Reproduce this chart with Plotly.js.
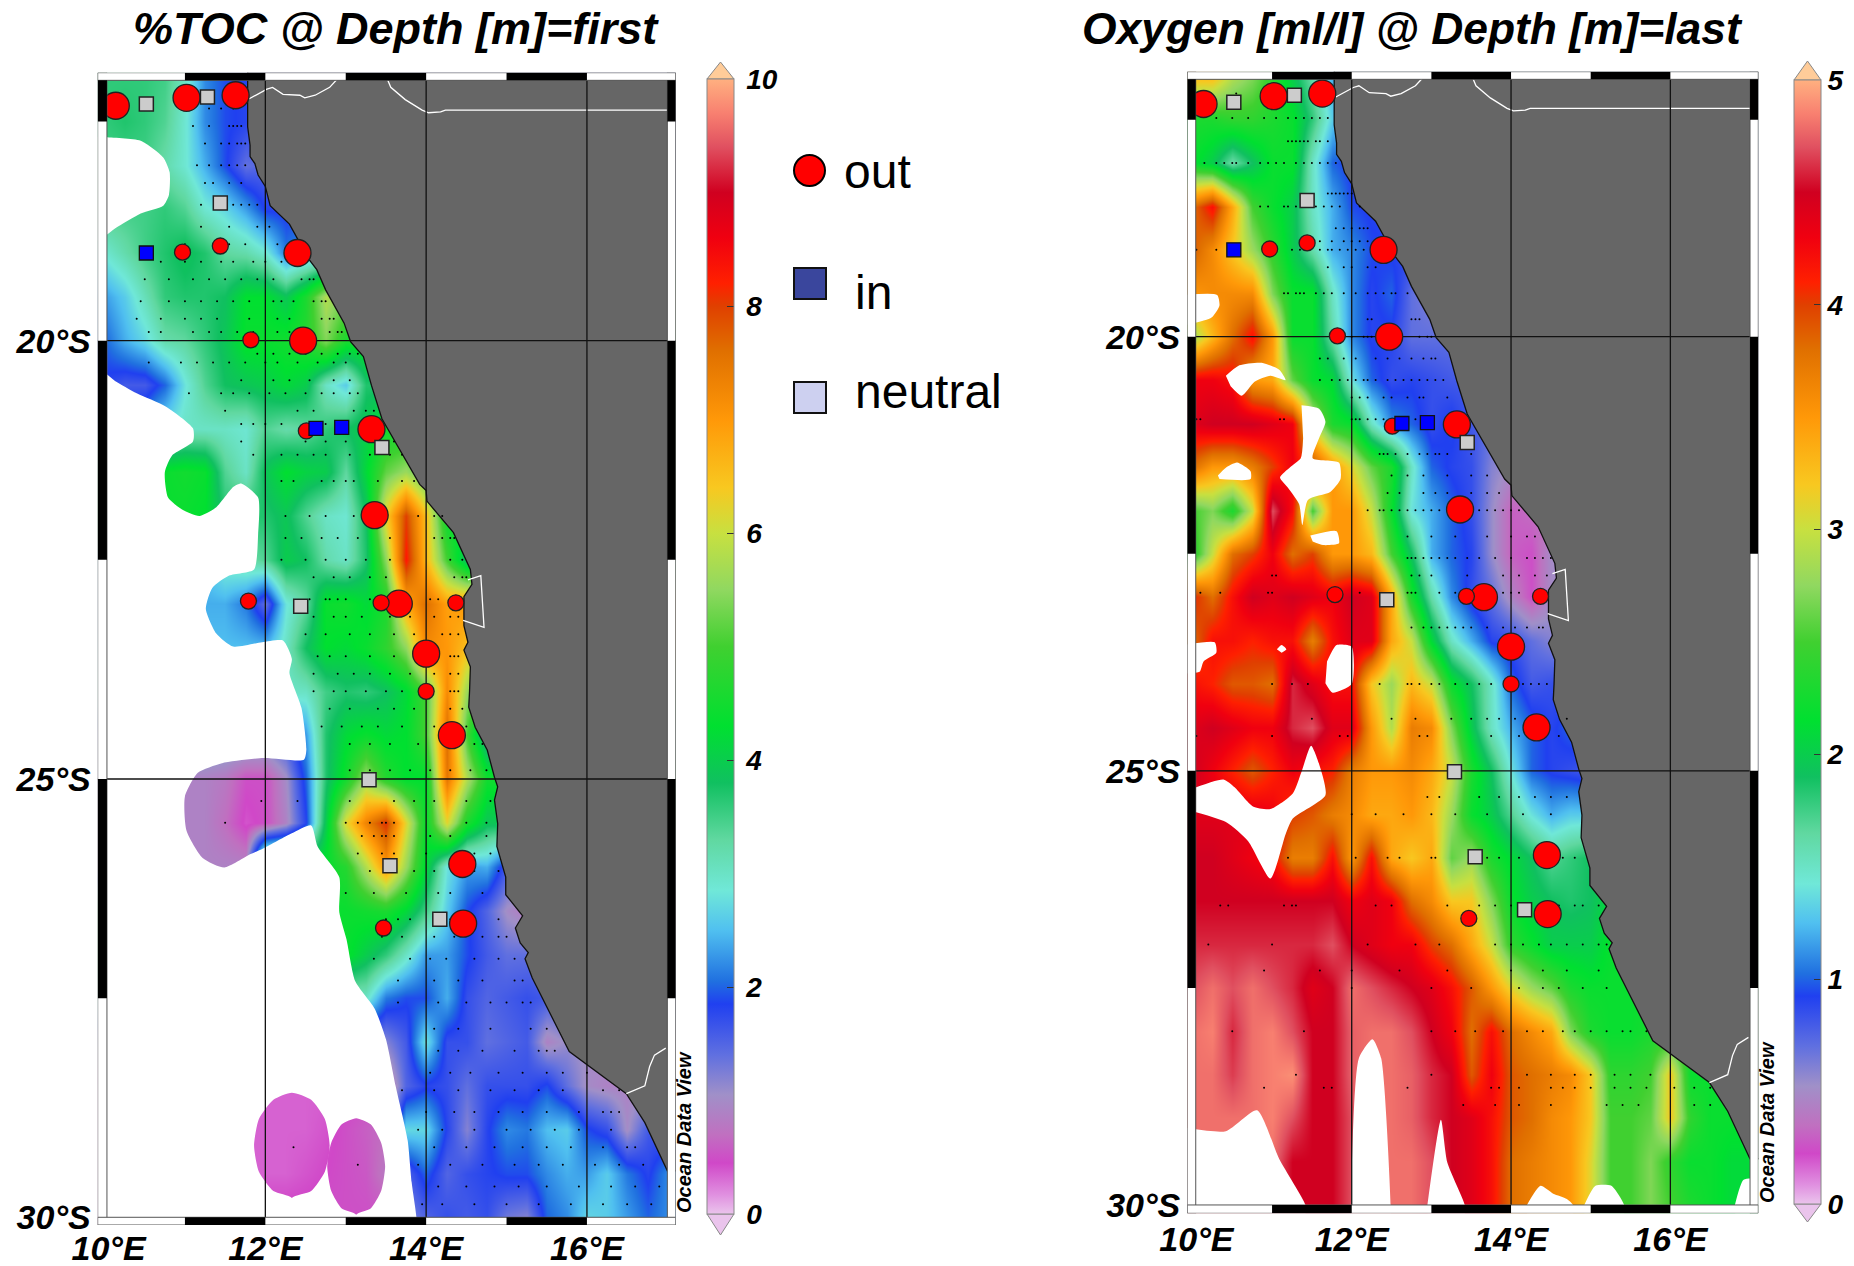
<!DOCTYPE html>
<html><head><meta charset="utf-8">
<script src="https://cdn.plot.ly/plotly-3.0.1.min.js"></script>
<style>html,body{margin:0;padding:0;background:#fff}#chart{width:1854px;height:1266px}</style>
</head><body><div id="chart"></div>
<script>
const gridLons=[10,10.25,10.5,10.75,11,11.25,11.5,11.75,12,12.25,12.5,12.75,13,13.25,13.5,13.75,14,14.25,14.5,14.75,15,15.25,15.5,15.75,16,16.25,16.5,16.75,17];
const gridLats=[17,17.5,18,18.5,19,19.5,20,20.5,21,21.5,22,22.5,23,23.5,24,24.5,25,25.5,26,26.5,27,27.5,28,28.5,29,29.5,30];

const tocRows=[
[3.6,3.6,3.6,3.5,3.0,2.2,1.9,1.8,1.8],
[3.6,3.7,3.6,3.4,2.9,2.2,1.9,1.8,1.8],
[3.5,3.5,3.5,3.2,2.9,2.4,1.9,1.4,1.5,1.5],
[3.5,3.5,3.5,3.6,3.4,2.9,2.7,2.3,1.8,1.8,1.8],
[2.9,3.2,3.5,3.7,3.9,3.7,3.3,3.2,2.9,2.1,2.3,2.3],
[2.3,2.6,3.1,3.6,3.7,3.7,3.8,4.3,4.3,3.9,4.6,5.8,5.3],
[2.0,2.4,2.7,3.2,3.3,3.6,3.9,4.4,4.4,4.5,4.7,5.4,4.6,4.5],
[1.8,1.6,1.6,2.0,2.8,3.4,3.8,3.9,4.0,4.2,4.0,3.0,2.6,3.7,3.7],
[2.2,2.2,2.4,2.8,3.0,3.0,3.0,2.9,3.4,3.2,3.3,3.6,3.8,4.0,4.5,4.5],
[4.0,4.2,4.4,4.4,4.5,4.4,3.4,3.0,3.9,4.3,4.1,4.0,3.3,4.2,5.2,5.6,5.0,4.8],
[4.4,4.4,4.4,4.4,4.4,4.3,3.7,3.7,3.7,3.9,3.4,3.0,2.9,3.8,6.3,8.0,6.5,4.4,4.4],
[2.5,2.5,2.5,2.5,2.5,2.5,3.0,3.2,3.4,4.0,3.8,3.2,3.0,3.7,5.5,8.3,6.6,5.0,3.7,3.7],
[2.3,2.3,2.3,2.3,2.3,2.4,2.4,2.1,1.4,2.8,3.3,4.4,4.5,4.2,4.6,6.8,7.6,6.9,7.0,7.0],
[2.5,2.5,2.5,2.5,2.5,2.5,2.5,2.5,2.5,3.0,3.8,4.3,4.2,4.4,4.8,5.5,7.2,7.0,6.5,6.5],
[3,3,3,3,3,3,3,3,3,3.0,3.0,3.5,3.7,3.6,3.8,4.2,5.0,7.2,5.6,5.0],
[1.5,1.5,1.5,1.5,1.5,1.5,1.5,1.5,1.5,1.7,2.3,3.7,4.2,4.4,4.2,4.3,5.0,7.6,5.0,3.3,3.3],
[0.9,0.9,0.9,0.9,0.9,0.9,0.8,0.5,0.5,1.0,2.0,3.7,4.5,5.6,4.7,4.3,4.3,7.5,5.8,4.5,4.5],
[0.9,0.9,0.9,0.9,0.9,0.9,0.7,0.4,0.5,0.9,1.8,4.0,6.2,7.3,8.1,6.2,4.4,6.2,4.6,3.9,3.9],
[0.9,0.9,0.9,0.9,0.9,0.9,0.9,0.9,4.4,4.4,4.4,4.4,4.7,5.8,7.0,5.6,4.2,2.8,2.3,2.4,1.6],
[4.4,4.4,4.4,4.4,4.4,4.4,4.4,4.4,4.4,4.4,4.4,4.4,4.4,4.5,4.6,4.2,3.5,2.6,1.9,1.5,1.0,0.8],
[4.4,4.4,4.4,4.4,4.4,4.4,4.4,4.4,4.4,4.4,4.4,4.4,4.4,4.0,3.6,3.0,2.3,2.3,1.9,1.6,1.4,1.4],
[3,3,3,3,3,3,3,3,3,3,3,3,3,3.0,2.1,1.9,1.9,2.4,1.7,1.5,1.6,1.7,1.6],
[1.2,1.2,1.2,1.2,1.2,1.2,1.2,1.2,1.2,1.2,1.2,1.2,1.2,1.2,1.2,1.6,2.8,1.7,1.7,1.4,1.5,1.6,0.9,1.1,1.0],
[.35,.35,.35,.35,.35,.35,.35,.35,.35,.35,.35,.35,.4,.45,.5,1.5,1.8,1.7,1.4,1.7,1.7,1.7,1.9,1.4,1.0,0.9],
[.35,.35,.35,.35,.35,.35,.35,.35,.35,.35,.35,.4,.5,.6,.7,2.7,2.7,1.8,1.2,1.8,2.2,2.1,2.5,2.6,1.9,1.7,1.0,1.6],
[.35,.35,.35,.35,.35,.35,.35,.35,.35,.35,.4,.45,.5,.55,.8,1.5,2.0,1.5,1.7,1.8,1.9,1.9,2.2,2.4,2.3,2.6,2.1,1.8,2.2],
[.5,.5,.5,.5,.5,.5,.5,.5,.5,.5,.5,.5,.5,.5,.5,1.2,1.5,1.7,1.6,1.7,1.3,1.2,2.0,2.2,2.7,2.6,2.3,2.0,2.2]];

const oxyRows=[
[3.3,3.3,2.9,2.7,2.4,2.0,1.6,1.2,1.2],
[2.3,2.3,2.4,2.4,2.3,2.2,1.8,1.3,1.2],
[2.2,2.0,1.6,1.9,2.2,2.2,1.5,1.0,.9,.9],
[3.8,4.2,3.4,2.5,2.2,2.0,1.5,1.2,.95,.9,.9],
[3.9,3.6,3.2,2.8,2.4,2.0,1.6,1.2,1.1,.95,.9,.9],
[3.5,3.6,3.6,3.6,2.7,2.2,2.2,1.5,1.1,.9,1.0,.7,.6],
[2.8,3.3,3.8,4.2,3.5,2.2,2.2,1.6,1.1,.9,.9,.7,.7,.7],
[4.3,4.3,4.2,3.5,3.4,2.6,2.2,2.1,1.4,1.0,.85,.9,.85,.8],
[4.4,4.5,4.5,4.5,4.4,4.3,3.0,2.3,2.2,1.5,1.1,1.0,.85,.95,.8,.7],
[3.8,3.5,3.5,3.7,4.0,4.3,4.0,3.5,3.1,2.6,2.3,1.5,1.0,.9,.85,.6,.5,.5],
[2.5,2.7,2.3,3.0,4.7,4.2,2.5,3.5,3.5,3.0,2.2,1.4,1.2,1.0,.85,.55,.3,.35,.35],
[2.3,3.0,3.8,4.0,4.3,3.8,4.0,3.5,3.5,3.3,2.5,1.9,1.2,1.0,.9,.55,.3,.25,.5,.5],
[4.1,3.8,4.2,4.5,4.4,4.5,4.4,4.3,4.5,4.4,3.4,2.3,1.6,1.1,.85,.7,.45,.25,.5,.5],
[3.8,4.2,4.2,4.1,4.2,4.2,3.7,4.2,4.4,4.4,3.4,3.0,2.1,1.5,1.2,.9,.85,.7,.6,.6],
[4.2,4.1,3.9,3.9,3.8,4.6,4.4,4.2,4.2,3.2,2.8,3.3,3.0,2.2,1.9,1.5,1.0,.8,.85,.85],
[4.4,4.5,4.4,4.3,4.3,4.6,4.7,4.4,4.4,3.5,2.9,3.7,3.6,2.7,2.0,1.5,1.2,1.0,.9,1.0],
[4.5,4.3,4.1,3.9,4.1,4.3,4.2,4.1,3.7,3.5,3.5,3.6,3.4,3.0,2.3,1.9,1.4,1.0,.9,.85,.8],
[4.4,4.4,4.4,4.4,4.3,4.0,3.9,3.7,3.6,3.4,3.4,3.5,3.3,2.8,2.2,2.0,1.7,1.4,1.2,1.3,1.3],
[4.5,4.5,4.4,4.3,4.2,3.7,3.7,4.2,3.5,4.2,3.4,3.2,3.4,2.6,2.8,2.3,2.1,1.9,1.7,1.8,1.9],
[4.5,4.5,4.5,4.5,4.5,4.5,4.5,4.5,4.3,4.4,4.3,3.8,3.6,3.2,3.2,2.7,2.2,2.0,1.9,1.85,1.9,2.1],
[4.6,4.6,4.6,4.6,4.6,4.6,4.6,4.7,4.5,4.4,4.3,4.3,4.0,3.8,3.4,3.0,2.4,2.2,2.0,2.0,2.0,2.2],
[4.7,4.8,4.7,4.8,4.7,4.6,4.4,4.5,4.8,4.7,4.6,4.5,4.4,4.2,3.9,3.5,3.1,2.8,2.6,2.3,2.2,2.2,2.2],
[4.8,4.85,4.6,4.8,4.85,4.7,4.5,4.5,4.75,4.8,4.8,4.7,4.5,4.3,3.8,4.2,3.8,3.6,3.4,2.7,2.3,2.2,2.2,2.3],
[4.8,4.8,4.65,4.8,4.85,4.9,4.5,4.5,4.75,4.8,4.8,4.75,4.6,4.5,3.9,4.3,3.9,3.8,3.7,3.6,3.2,2.4,2.4,2.5,3.2,2.2],
[4.8,4.8,4.8,4.8,4.85,4.7,4.5,4.5,4.7,4.8,4.8,4.75,4.6,4.5,4.4,4.2,3.9,3.8,3.6,3.5,3.2,2.5,2.5,2.6,3.2,2.4,2.2,2.2],
[4.8,4.8,4.8,4.8,4.8,4.5,4.5,4.5,4.7,4.8,4.8,4.8,4.7,4.5,4.4,4.2,3.8,3.7,3.6,3.5,3.1,2.5,2.5,2.7,2.4,2.2,2.2,2.1,2.1],
[4.7,4.7,4.7,4.7,4.7,4.5,4.5,4.5,4.7,4.8,4.8,4.8,4.7,4.5,4.4,4.2,3.8,3.7,3.6,3.5,3.1,2.5,2.5,2.7,2.5,2.3,2.2,2.1,2.1]];

const palette=[[0,'#EAC4EC'],[.017,'#E090E0'],[.045,'#D048C8'],[.07,'#C070C0'],[.105,'#A090C8'],[.14,'#6070E0'],[.185,'#2040F0'],[.205,'#2070E0'],[.25,'#50C0F0'],[.285,'#70E8D8'],[.33,'#60D8A0'],[.38,'#10C060'],[.43,'#00E030'],[.5,'#40D030'],[.55,'#90D860'],[.6,'#C8E040'],[.64,'#F8C820'],[.7,'#FF9808'],[.76,'#E07000'],[.8,'#E04000'],[.82,'#FF2000'],[.86,'#F00010'],[.9,'#D00020'],[.94,'#E05060'],[.97,'#F88070'],[1,'#FFB080']];

const coastLon=[11.78,11.78,11.81,11.81,11.87,11.91,12.0,12.06,12.30,12.54,12.64,12.75,12.98,13.06,13.22,13.32,13.45,13.92,14.0,14.01,14.34,14.55,14.57,14.47,14.47,14.52,14.47,14.55,14.54,14.53,14.61,14.76,14.85,14.89,14.85,14.89,14.88,14.99,14.99,15.11,15.2,15.11,15.17,15.27,15.23,15.32,15.49,15.78,16.49,16.72,17,17.2,17.2,11.78];
const coastLat=[16.9,17.56,17.77,17.90,17.98,18.11,18.24,18.46,18.67,19.07,19.19,19.42,19.80,20.01,20.18,20.51,20.89,21.64,21.71,21.83,22.19,22.61,22.78,22.92,23.25,23.44,23.53,23.72,24.0,24.18,24.41,24.67,24.98,25.09,25.24,25.51,25.77,26.12,26.32,26.45,26.56,26.70,26.87,26.98,27.05,27.27,27.58,28.11,28.59,28.92,29.47,29.47,16.9,16.9];
const borderLon=[11.8,12.02,12.09,12.22,12.43,12.49,12.62,12.8,12.91,null,13.51,13.56,13.74,13.95,14.03,14.18,14.24,17,null,14.52,14.68,14.72,14.46,null,16.49,16.72,16.78,16.84,16.98];
const borderLat=[17.24,17.13,17.11,17.19,17.2,17.23,17.2,17.11,17.0,null,17,17.11,17.25,17.37,17.4,17.39,17.37,17.37,null,22.73,22.68,23.27,23.19,null,28.59,28.5,28.28,28.15,28.07];

const tocGapLon=[10,10.45,10.73,10.81,10.8,10.73,10.45,10.13,9.9,9.9,10,null,
 9.9,10,10.13,10.4,10.76,11.1,11.1,10.84,10.75,10.79,10.97,11.18,11.39,11.6,11.7,11.91,11.91,11.86,11.55,11.34,11.26,11.39,11.6,11.96,12.22,12.33,12.30,12.45,12.51,12.48,11.98,11.46,11.16,11.0,11.02,11.22,11.49,11.81,11.98,12.33,12.57,12.65,12.92,12.92,13.01,13.12,13.36,13.5,13.62,13.77,13.82,13.88,13.88,13.13,
 13.13,13.31,13.44,13.49,13.44,13.31,13.13,12.95,12.82,12.77,12.82,12.95,13.13,13.13,12.33,
 12.33,12.57,12.74,12.80,12.74,12.57,12.33,12.10,11.92,11.86,11.92,12.10,12.33,12.33,9.9];
const tocGapLat=[17.68,17.72,17.91,18.08,18.34,18.46,18.55,18.72,18.86,17.68,17.68,null,
 20.37,20.37,20.46,20.6,20.75,21.0,21.15,21.31,21.5,21.79,21.93,22.0,21.9,21.67,21.63,21.79,22.21,22.61,22.68,22.82,23.06,23.34,23.49,23.44,23.42,23.63,23.79,24.19,24.67,24.78,24.76,24.82,24.93,25.2,25.59,25.9,26.01,25.86,25.79,25.62,25.53,25.77,26.12,26.52,26.83,27.31,27.62,27.97,28.5,29.12,29.6,30,30.1,30.1,
 29.97,29.90,29.70,29.42,29.15,28.94,28.87,28.94,29.15,29.42,29.70,29.90,29.97,30.1,30.1,
 29.78,29.70,29.48,29.18,28.88,28.66,28.58,28.66,28.88,29.18,29.48,29.70,29.78,30.1,30.1];

const oxyGapLon=[9.9,10.31,10.34,10.24,9.9,null,10.42,10.59,10.87,11.09,11.17,10.98,10.78,10.62,10.48,null,
 11.37,11.59,11.67,11.59,11.51,11.84,11.86,11.73,11.45,11.38,11.34,11.2,11.1,11.23,11.36,11.39,null,
 10.32,10.42,10.56,10.73,10.73,10.34,null,11.48,11.81,11.84,11.64,11.51,null,9.9,10.28,10.3,10.14,10.09,9.9,null,
 11.06,11.12,11.18,11.12,null,11.69,11.81,12,12,11.76,11.67,null,
 9.9,10.39,10.53,10.76,10.98,11.26,11.37,11.49,11.59,11.67,11.26,11.17,10.98,10.7,10.42,9.9,null,
 9.9,10.42,10.81,11.09,11.42,11.42,9.9,null,11.99,12.09,12.26,12.37,12.49,12.49,11.99,null,
 12.95,13.12,13.2,13.42,13.42,12.95,null,14.2,14.37,14.53,14.7,14.78,14.78,14.2,null,14.92,15.06,15.26,15.42,15.42,14.92,null,16.81,16.92,17.1,17.1,16.81];
const oxyGapLat=[19.52,19.52,19.64,19.78,19.87,null,20.45,20.33,20.30,20.38,20.5,20.45,20.52,20.68,20.57,null,
 20.79,20.83,20.98,21.17,21.40,21.45,21.64,21.79,21.88,22.17,21.93,21.74,21.62,21.5,21.4,21.17,null,
 21.6,21.51,21.45,21.55,21.64,21.64,null,22.29,22.24,22.38,22.4,22.36,null,23.55,23.52,23.64,23.74,23.86,23.88,null,
 23.6,23.55,23.6,23.64,null,23.74,23.55,23.57,24.0,24.1,23.99,null,
 25.24,25.1,25.19,25.41,25.44,25.26,25.01,24.71,24.92,25.28,25.55,25.73,26.24,25.81,25.59,25.44,null,
 29.11,29.15,28.91,29.47,30,30.1,30.1,null,30,28.31,28.09,28.31,30,30.1,30.1,null,
 30,29.02,29.51,30,30.1,30.1,null,30,29.78,29.87,29.93,30,30.1,30.1,null,30,29.78,29.78,30,30.1,30.1,null,30,29.71,29.71,30.1,30.1];

const outBigLon=[10.14,11.02,11.63,12.40,12.47,13.32,13.36,13.66,14.0,14.32,14.45,14.46];
const outBigLat=[17.32,17.23,17.20,19.0,20.0,21.01,21.99,23.0,23.57,24.5,25.97,26.65];
const outSmallLon=[10.97,11.44,11.82,12.51,13.44,14.37,11.79,14.0,13.47];
const outSmallLat=[18.99,18.92,19.99,21.03,22.99,22.99,22.97,24.0,26.7];
const inLon=[10.52,12.63,12.95];
const inLat=[19.0,21.0,20.99];
const neutralLon=[10.52,11.28,11.44,13.45,12.44,13.29,13.55,14.17];
const neutralLat=[17.3,17.22,18.43,21.22,23.03,25.01,25.99,26.6];

const tocStations=[
[17.35,[11.3,11.45,11.6]],[17.55,[11.1,11.3,11.55,11.6,11.65,11.7]],[17.75,[11.25,11.45,11.55,11.65,11.7,11.75]],[18.0,[11.15,11.3,11.45,11.55,11.65,11.75]],[18.2,[11.25,11.35,11.55,11.7]],[18.45,[11.2,11.6,11.7,11.8,11.9]],[18.7,[11.2,11.55,11.9,12.05]],[18.9,[11.0,11.55,11.75,12.15]],[19.1,[10.7,11.0,11.2,11.45,11.6,11.85,12.0,12.2]],[19.3,[10.5,10.8,11.1,11.3,11.5,11.7,11.9,12.1,12.45,12.55,12.6]],[19.55,[10.45,10.8,11.0,11.2,11.4,11.6,11.8,12.1,12.2,12.35,12.6,12.7,12.75]],[19.75,[10.4,10.7,11.0,11.2,11.4,11.8,12.15,12.3,12.7,12.8,12.85]],[19.9,[10.55,10.7,11.1,11.3,11.45,11.65,11.85,12.15,12.3,12.8,12.9,12.95]],[20.15,[11.9,12.1,12.3,12.5,12.7,12.9,13.05,13.15]],[20.25,[10.55,10.95,11.15,11.35,11.55,11.75,12.0,12.15,12.4,12.65,12.85,13.0]],[20.45,[11.7,12.1,12.3,12.55,12.85,13.05]],[20.6,[11.05,11.45,11.6,11.8,12.05,12.25,12.5,12.7,12.85,13.05,13.15]],[20.8,[11.5,12.4,12.6,13.1,13.25,13.35]],[20.95,[11.7,11.85,12.0,12.2,12.5,12.75,13.0,13.45]],[21.15,[11.7,12.5,12.75,13.0,13.5,13.6]],[21.3,[11.85,12.2,12.4,12.6,12.75,13.05,13.3,13.55,13.7]],[21.6,[12.2,12.35,12.7,12.85,13.0,13.1,13.4,13.7,13.85]],[22.0,[12.25,12.55,12.75,13.1,13.3,13.9,14.1,14.2]],[22.25,[12.25,12.45,12.7,12.9,13.15,13.55,14.1,14.2,14.3,14.35]],[22.5,[12.2,12.5,12.75,13.0,13.25,13.55,14.3,14.45]],[22.7,[12.6,12.85,13.05,13.3,13.5,14.35,14.45,14.5]],[22.95,[12.55,12.75,12.8,12.9,13.0,13.3,14.05,14.15,14.3,14.45]],[23.15,[12.6,12.85,13.0,13.2,13.55,13.8,14.1,14.3,14.4]],[23.35,[12.5,12.75,13.05,13.3,13.6,13.85,14.2,14.3,14.4]],[23.6,[12.65,12.8,13.0,13.3,13.6,13.85,14.1,14.3,14.35,14.4]],[23.8,[12.6,12.9,13.1,13.3,13.55,13.8,14.1,14.3,14.4]],[24.0,[12.6,12.85,13.0,13.25,13.5,13.7,14.3,14.35,14.4]],[24.2,[12.8,13.05,13.4,13.6,13.85,14.3,14.45]],[24.4,[12.7,12.95,13.2,13.4,13.7,14.1,14.5]],[24.6,[13.05,13.3,13.55,13.9,14.3,14.6,14.7]],[24.9,[13.05,13.3,13.55,13.8,14.05,14.3,14.55,14.75]],[25.25,[11.95,12.4,13.05,13.6,13.85,14.1,14.5,14.8]],[25.5,[11.5,13.0,13.15,13.3,13.45,13.5,13.6,14.5,14.75]],[25.65,[13.2,13.35,13.45,13.5,13.6,14.05,14.3,14.75]],[25.85,[13.15,13.45,13.6,14.0,14.4,14.6,14.8]],[26.05,[13.3,13.5,13.85,14.1,14.6,14.9]],[26.3,[13.0,13.35,13.75,14.15,14.3,14.7]],[26.6,[13.5,13.65,13.8,14.3,14.6,14.9]],[26.8,[13.45,13.7,14.1,14.35,14.7,14.9,15.0]],[27.05,[13.35,13.8,14.05,14.25,14.6,14.9,15.1]],[27.3,[13.65,14.1,14.4,14.7,15.1,15.2]],[27.55,[13.65,14.15,14.5,14.8,15.0,15.2,15.3]],[27.85,[14.1,14.4,14.8,15.3,15.5]],[28.1,[14.15,14.4,14.7,15.1,15.4,15.5,15.6]],[28.35,[14.05,14.3,14.55,14.9,15.2,15.5,15.7,16.0]],[28.55,[13.7,14.1,14.4,14.8,15.1,15.4,15.7,16.2,16.4]],[28.8,[14.0,14.35,14.6,14.9,15.2,15.5,15.9,16.2,16.3,16.4]],[29.0,[13.9,14.2,14.6,15.0,15.3,15.6,15.9,16.3]],[29.2,[12.35,14.1,14.5,14.85,15.2,15.5,15.8,16.2,16.5,16.6]],[29.4,[13.15,13.9,14.3,14.7,15.1,15.4,15.7,16.1,16.4,16.7]],[29.65,[14.15,14.5,14.85,15.15,15.5,15.9,16.3,16.6,16.9]],[29.85,[13.95,14.2,14.6,15.0,15.4,15.8,16.2,16.5,16.8]]];

const oxyStations=[
[17.2,[10.55,11.3,11.5,11.6,11.7]],[17.48,[10.3,10.5,10.7,10.9,11.05,11.2,11.3,11.4,11.5,11.6,11.7]],[17.75,[11.2,11.25,11.3,11.35,11.4,11.45,11.55,11.6,11.7]],[18.0,[10.15,10.3,10.4,10.5,10.55,10.7,10.85,10.95,11.05,11.15,11.3,11.4,11.5,11.6,11.7,11.8]],[18.35,[11.7,11.75,11.8,11.85,11.9,11.95,12.0]],[18.5,[10.85,10.95,11.15,11.2,11.3,11.45,11.55,11.65,11.75,11.85,12.1]],[18.75,[11.8,11.9,12.0,12.1,12.15,12.2]],[18.9,[11.6,11.75,11.9,12,12.1,12.2,12.3]],[19.0,[10.05,10.3,11.25,11.35,11.45,11.6,11.7,11.75,11.85,11.95,12.05,12.15]],[19.2,[11.7,11.9,12.0,12.2,12.3]],[19.5,[11.15,11.2,11.3,11.35,11.4,11.55,11.65,11.75,11.9,12.05,12.2,12.3,12.4,12.5,12.55,12.7]],[19.8,[12.2,12.25,12.75,12.8,12.85]],[20.0,[11.75,11.85,12.0,12.15,12.2,12.25,12.35,12.85,12.95,13.0]],[20.25,[11.6,11.7,11.9,12.05,12.3,12.45,12.6,12.75,12.9,13.0,13.05]],[20.5,[11.6,11.75,11.85,11.95,12.05,12.15,12.2,12.3,12.45,12.55,12.65,12.75,12.85,12.95,13.05,13.15]],[20.7,[12.0,12.1,12.2,12.4,12.5,12.7,12.85,12.9,13.2]],[20.95,[10.05,10.1,11.1,11.15,12,12.05,12.1,12.2,12.3,12.4,12.6,12.8,13.0,13.2]],[21.35,[12.35,12.4,12.45,12.55,12.7,12.85,12.95,13.05,13.1,13.2,13.5]],[21.6,[12.5,12.7,12.9,13.2,13.5,13.7]],[21.8,[12.45,12.6,12.9,13.05,13.2,13.5,13.7,13.85]],[22.0,[12.2,12.35,12.4,12.5,12.6,12.7,12.8,12.9,13.0,13.1,13.2,13.5,13.6,13.7,13.8,13.9,14.0,14.1]],[22.3,[12.7,13.0,13.3,13.7,14.0,14.2,14.3]],[22.55,[12.7,12.75,12.8,12.9,13.0,13.1,13.2,13.3,13.45,13.6,13.8,14.0,14.2,14.3,14.4,14.5]],[22.75,[11.0,11.05,12.75,12.85,13.0,13.45,13.9,14.1,14.3,14.45]],[22.95,[10.1,10.35,10.95,11.0,11.7,11.8,12.1,12.7,12.75,12.8,13.1,13.3,13.75,13.9,14.0,14.1,14.3]],[23.35,[12.75,12.9,13.0,13.1,13.2,13.3,13.4,13.5,13.7,13.9,14.05,14.2,14.35,14.4]],[24.0,[11.0,11.25,11.45,12.35,12.7,12.75,12.85,13.0,13.1,13.3,13.45,13.6,13.75,14.15,14.25,14.35,14.45]],[24.4,[11.5,12.5,12.8,13.25,13.5,13.7,13.85,14.05,14.2,14.7]],[24.6,[10.05,11.0,11.85,11.95,12.85,12.95,13.75,14.1,14.6]],[25.3,[12.95,13.1,13.6,13.85,14.1,14.3,14.5,14.7]],[25.5,[12.0,12.3,12.65,13.0,13.3,13.7,14.15,14.5]],[26.0,[11.2,12.05,12.45,12.6,13.0,13.05,13.5,13.7,13.85,14.1,14.3,14.65,14.8]],[26.55,[10.35,10.45,11.15,11.25,11.3,12.3,12.5,13.2,13.6,13.8,14.0,14.4,14.6,14.8,14.9,15.1]],[27.0,[10.2,11.0,12.2,12.8,13.1,13.8,14.0,14.15,14.35,14.5,14.7,14.9,15.1,15.2]],[27.3,[10.9,11.6,12.0,12.6,13.2,14.0,14.4,14.7,15.1]],[27.5,[12.0,13.0,13.5,14.1,14.4,14.6,14.9,15.2]],[28.0,[10.5,11.4,13.0,13.3,13.55,13.9,14.2,14.4,14.65,14.8,15.0,15.2,15.4,15.5,15.7]],[28.5,[11.3,13.0,14.2,14.5,14.8,15.0,15.3,15.5,15.75]],[28.65,[10.9,11.65,11.75,12.7,13.75,13.85,14.1,14.5,14.65,14.8,15.0,15.3,15.5,15.7,16.05,16.3,16.5]],[28.85,[13.4,13.8,14.1,14.5,15.2,15.4,15.6,16.3,16.5]]];

const lonTicks=[10.05,12,14,16], lonTickText=['10°E','12°E','14°E','16°E'];
const latTicks=[20,25,30], latTickText=['20°S','25°S','30°S'];
const gridLonLines=[12,14,16], gridLatLines=[20,25];

const W=1854,H=1266;
const FONT='"Liberation Sans", Arial, sans-serif';
const bi=(size)=>({family:FONT,size:size,color:'#000',weight:700,style:'italic'});
const fx=p=>p/W, fy=p=>1-p/H;

function fillRow(r){const o=r.slice();while(o.length<gridLons.length)o.push(o[o.length-1]);return o;}
function flat(rows){const x=[],y=[];rows.forEach(([la,ls])=>ls.forEach(l=>{x.push(l);y.push(la);}));return{x,y};}

const panels=[
 {xa:'x',ya:'y',rows:tocRows,zmax:10,dtick:[0,2,4,6,8,10],pre:'\u2009',gapX:tocGapLon,gapY:tocGapLat,st:tocStations,
  dom:[97.7,675.7,72.7,1225],xr:[9.915,17.104],yr:[30.088,16.943],innerL:10.03,innerT:17.03,
  bar:[707,734,79,1214],triT:62,triB:1235,stand:0},
 {xa:'x2',ya:'y2',rows:oxyRows,zmax:5,dtick:[0,1,2,3,4,5],pre:'',gapX:oxyGapLon,gapY:oxyGapLat,st:oxyStations,
  dom:[1187.3,1758.3,71.7,1213.3],xr:[9.936,17.104],yr:[30.096,16.948],innerL:10.042,innerT:17.036,
  bar:[1794,1821,80,1204],triT:61,triB:1222,stand:3}];

const traces=[],shapes=[];
panels.forEach(p=>{
 const base={xaxis:p.xa,yaxis:p.ya,hoverinfo:'skip',showlegend:false};
 traces.push(Object.assign({},base,{type:'heatmap',x:gridLons,y:gridLats,z:p.rows.map(fillRow),zmin:0,zmax:p.zmax,zsmooth:'best',colorscale:palette,
  colorbar:{x:fx(p.bar[0]),xanchor:'left',xpad:0,ypad:0,y:fy(p.bar[3]),yanchor:'bottom',lenmode:'pixels',len:p.bar[3]-p.bar[2],thicknessmode:'pixels',thickness:p.bar[1]-p.bar[0],
   outlinecolor:'#888',outlinewidth:1,tickvals:p.dtick,ticktext:p.dtick.map(v=>p.pre+v),ticks:'inside',ticklen:7,tickcolor:'#333',tickfont:bi(28)}}));
 traces.push(Object.assign({},base,{type:'scatter',mode:'lines',x:p.gapX,y:p.gapY,fill:'toself',fillcolor:'#fff',line:{width:0,color:'#fff',shape:'spline',smoothing:0.6}}));
 traces.push(Object.assign({},base,{type:'scatter',mode:'lines',x:coastLon,y:coastLat,fill:'toself',fillcolor:'#666666',line:{width:1.3,color:'#111'}}));
 traces.push(Object.assign({},base,{type:'scatter',mode:'lines',x:borderLon,y:borderLat,line:{width:1.3,color:'#fff'}}));
 gridLonLines.forEach(l=>traces.push(Object.assign({},base,{type:'scatter',mode:'lines',x:[l,l],y:[p.yr[0]-.09,p.innerT],line:{width:1.3,color:'#111'}})));
 gridLatLines.forEach(l=>traces.push(Object.assign({},base,{type:'scatter',mode:'lines',x:p.xr,y:[l,l],line:{width:1.3,color:'#111'}})));
 const d=flat(p.st);
 traces.push(Object.assign({},base,{type:'scatter',mode:'markers',x:d.x,y:d.y,marker:{size:2,color:'#000'}}));
 traces.push(Object.assign({},base,{type:'scatter',mode:'markers',x:outBigLon,y:outBigLat,marker:{size:27,color:'#ff0000',line:{width:1.3,color:'#222'}}}));
 traces.push(Object.assign({},base,{type:'scatter',mode:'markers',x:outSmallLon,y:outSmallLat,marker:{size:16,color:'#ff0000',line:{width:1.3,color:'#222'}}}));
 traces.push(Object.assign({},base,{type:'scatter',mode:'markers',x:neutralLon,y:neutralLat,marker:{symbol:'square',size:14,color:'#cccccc',line:{width:1.5,color:'#222'}}}));
 traces.push(Object.assign({},base,{type:'scatter',mode:'markers',x:inLon,y:inLat,marker:{symbol:'square',size:14,color:'#0000ff',line:{width:1.3,color:'#111'}}}));

 // frame
 const [xl,xr]=p.xr,[yb,yt]=p.yr,il=p.innerL,it=p.innerT;
 const rect=(x0,x1,y0,y1,fill,lc)=>shapes.push({type:'rect',xref:p.xa,yref:p.ya,x0,x1,y0,y1,fillcolor:fill,line:{width:lc?1:0,color:lc||'#fff'},layer:'above'});
 rect(xl,il,yb,yt,'#fff','#555');rect(17,xr,yb,yt,'#fff','#555');rect(xl,xr,it,yt,'#fff','#555');rect(xl,xr,yb,30,'#fff','#555');
 [[11,12],[13,14],[15,16]].forEach(([a,b])=>{rect(a,b,it,yt,'#000');rect(a,b,yb,30,'#000');});
 [[it,17.5],[20,22.5],[25,27.5]].forEach(([a,b])=>{rect(xl,il,a,b,'#000');rect(17,xr,a,b,'#000');});
 // colorbar end arrows
 const cx=(p.bar[0]+p.bar[1])/2;
 shapes.push({type:'path',xref:'paper',yref:'paper',path:`M ${fx(p.bar[0])} ${fy(p.bar[2])} L ${fx(cx)} ${fy(p.triT)} L ${fx(p.bar[1])} ${fy(p.bar[2])} Z`,fillcolor:'#FFCC99',line:{width:1,color:'#888'}});
 shapes.push({type:'path',xref:'paper',yref:'paper',path:`M ${fx(p.bar[0])} ${fy(p.bar[3])} L ${fx(cx)} ${fy(p.triB)} L ${fx(p.bar[1])} ${fy(p.bar[3])} Z`,fillcolor:'#EAC4EC',line:{width:1,color:'#888'}});
});
// legend keys
shapes.push({type:'circle',xref:'paper',yref:'paper',x0:fx(794),x1:fx(825),y0:fy(155),y1:fy(186),fillcolor:'#ff0000',line:{width:2,color:'#000'}});
shapes.push({type:'rect',xref:'paper',yref:'paper',x0:fx(794),x1:fx(826),y0:fy(268),y1:fy(299),fillcolor:'#3A469D',line:{width:2,color:'#111'}});
shapes.push({type:'rect',xref:'paper',yref:'paper',x0:fx(794),x1:fx(826),y0:fy(382),y1:fy(413),fillcolor:'#CDD0F0',line:{width:2,color:'#111'}});

const ann=(text,x,y,font,extra)=>Object.assign({text,xref:'paper',yref:'paper',x:fx(x),y:fy(y),showarrow:false,font,xanchor:'center',yanchor:'middle'},extra||{});
const plain={family:FONT,size:48,color:'#000'};
const annotations=[
 ann('%TOC @ Depth [m]=first',396,29,bi(45)),
 ann('Oxygen [ml/l] @ Depth [m]=last',1412,29,bi(44.4)),
 ann('out',842,171,plain,{xanchor:'left'}),
 ann('in',853,292,plain,{xanchor:'left'}),
 ann('neutral',853,391,plain,{xanchor:'left'}),
 ann('Ocean Data View',684,1132,bi(20),{textangle:-90}),
 ann('Ocean Data View',1767,1122,bi(20),{textangle:-90})];

const ax=(range,dom,vals,text,anchor,stand)=>({range,domain:dom,tickmode:'array',tickvals:vals,ticktext:text,tickfont:bi(34),showgrid:false,zeroline:false,showline:false,ticks:'',ticklabelstandoff:stand,anchor,fixedrange:true});
const p0=panels[0],p1=panels[1];
const layout={width:W,height:H,margin:{l:0,r:0,t:0,b:0},paper_bgcolor:'#fff',plot_bgcolor:'#fff',showlegend:false,shapes,annotations,
 xaxis:ax(p0.xr,[fx(p0.dom[0]),fx(p0.dom[1])],lonTicks,lonTickText,'y',p0.stand),
 yaxis:ax(p0.yr,[fy(p0.dom[3]),fy(p0.dom[2])],latTicks,latTickText,'x',6),
 xaxis2:ax(p1.xr,[fx(p1.dom[0]),fx(p1.dom[1])],lonTicks,lonTickText,'y2',p1.stand),
 yaxis2:ax(p1.yr,[fy(p1.dom[3]),fy(p1.dom[2])],latTicks,latTickText,'x2',6)};
Plotly.newPlot('chart',traces,layout,{displayModeBar:false,staticPlot:true});
</script></body></html>
